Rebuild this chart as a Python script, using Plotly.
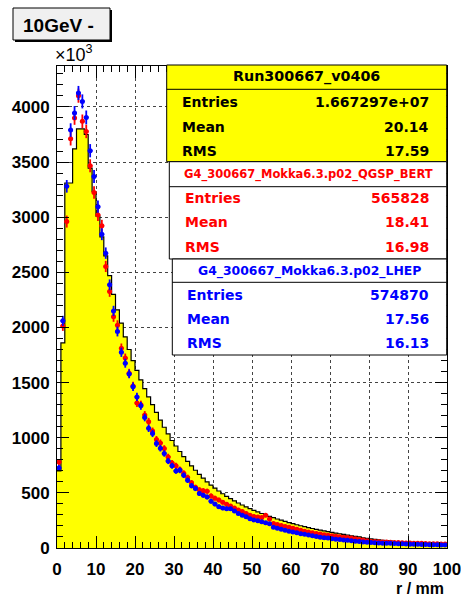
import plotly.graph_objects as go

# ---- data: radial shower profile, 1 mm bins from 0 to 100 mm (values in units of 10^3) ----
bin_edges = list(range(0, 101))
bin_centers = [i + 0.5 for i in range(100)]

run_data = [
    700, 1860, 3310, 3310, 3620, 3800, 3800, 3750, 3445, 3233,
    3010, 2822, 2650, 2470, 2300, 2160, 2040, 1915, 1800, 1700,
    1610, 1525, 1445, 1370, 1300, 1230, 1160, 1095, 1035, 975,
    925, 875, 828, 785, 745, 705, 668, 633, 600, 570,
    543, 517, 492, 468, 447, 428, 408, 390, 373, 357,
    342, 327, 313, 300, 287, 275, 263, 252, 241, 231,
    221, 211, 202, 193, 185, 177, 169, 162, 155, 148,
    141, 135, 129, 123, 117, 111, 106, 101, 92, 87,
    82, 78, 74, 70, 66, 62, 58, 55, 52, 48,
    42, 40, 38, 36, 34, 32, 30, 28, 26, 25,
]

qgsp_bert = [
    780, 2014, 2960, 3711, 3900, 4102, 3869, 3778, 3466, 3224,
    3020, 2922, 2553, 2326, 2097, 2020, 1812, 1722, 1585, 1470,
    1316, 1300, 1207, 1146, 1060, 984, 953, 902, 826, 771,
    745, 712, 678, 640, 592, 550, 528, 520, 515, 472,
    452, 435, 415, 397, 380, 362, 345, 330, 312, 298,
    286, 280, 276, 297, 262, 222, 212, 203, 196, 188,
    180, 170, 160, 152, 146, 138, 131, 126, 120, 115,
    110, 106, 102, 98, 95, 90, 84, 78, 72, 66,
    60, 58, 57, 55, 54, 52, 50, 49, 47, 46,
    45, 44, 43, 42, 40, 39, 38, 38, 37, 36,
]

lhep = [
    725, 2060, 3280, 3790, 3945, 4126, 4050, 3905, 3603, 3369,
    3095, 2845, 2674, 2387, 2150, 1963, 1775, 1676, 1579, 1462,
    1370, 1289, 1183, 1085, 1038, 947, 905, 857, 789, 745,
    699, 705, 660, 614, 565, 539, 494, 478, 463, 425,
    398, 375, 362, 357, 355, 335, 312, 298, 283, 265,
    255, 246, 238, 228, 220, 188, 180, 170, 162, 152,
    146, 138, 130, 124, 118, 110, 104, 98, 94, 90,
    85, 80, 76, 72, 70, 66, 62, 58, 55, 52,
    50, 48, 46, 44, 43, 42, 40, 39, 38, 36,
    35, 34, 33, 32, 31, 30, 30, 29, 28, 28,
]

x_ticks = [0, 10, 20, 30, 40, 50, 60, 70, 80, 90, 100]
y_ticks = [0, 500, 1000, 1500, 2000, 2500, 3000, 3500, 4000]

stats = [
    # (title, colour, fill, entries, mean, rms)
    ("Run300667_v0406", "black", "#ffff00", "1.667297e+07", "20.14", "17.59"),
    ("G4_300667_Mokka6.3.p02_QGSP_BERT", "#ff0000", "white", "565828", "18.41", "16.98"),
    ("G4_300667_Mokka6.3.p02_LHEP", "#0000ff", "white", "574870", "17.56", "16.13"),
]

# ---- page geometry (pixels) ----
W, H = 461, 596
ML, MR, MT, MB = 57, 14, 66, 48
PW, PH = W - ML - MR, H - MT - MB


def fx(px):
    return (px - ML) / PW


def fy(py):
    return (H - MB - py) / PH


fig = go.Figure()

# filled data histogram with black step outline
fig.add_trace(go.Scatter(
    x=bin_edges, y=run_data + [run_data[-1]],
    mode="lines", line=dict(shape="hv", color="black", width=1.2),
    fill="tozeroy", fillcolor="#ffff00", hoverinfo="skip", showlegend=False,
))

for values, colour in ((qgsp_bert, "#ff0000"), (lhep, "#0000ff")):
    fig.add_trace(go.Scatter(
        x=bin_centers, y=values, mode="markers",
        marker=dict(symbol="circle", size=5, color=colour),
        error_y=dict(type="sqrt", color=colour, thickness=1.8, width=0),
        error_x=dict(type="constant", value=0.6, color=colour, thickness=1.8, width=0),
        showlegend=False,
    ))

axis_common = dict(
    showline=True, linecolor="black", linewidth=1, mirror="allticks",
    ticks="inside", tickcolor="black", ticklen=12, tickwidth=1,
    showgrid=True, gridcolor="#444444", griddash="dot", gridwidth=1,
    zeroline=False, ticklabeloverflow="allow", automargin=False,
    tickfont=dict(family="Liberation Sans, Arial", size=17, color="black", weight="bold"),
)

fig.update_xaxes(range=[0, 100], tickvals=x_ticks, ticktext=[str(v) for v in x_ticks],
                 minor=dict(dtick=2, ticks="inside", ticklen=6, tickcolor="black", showgrid=False),
                 ticklabelstandoff=6, **axis_common)
fig.update_yaxes(range=[0, 4371], tickvals=y_ticks, ticktext=[str(v) for v in y_ticks],
                 minor=dict(dtick=100, ticks="inside", ticklen=6, tickcolor="black", showgrid=False),
                 ticklabelstandoff=3, **axis_common)

shapes = []
annotations = []

# title box with drop shadow
shapes.append(dict(type="rect", xref="paper", yref="paper", layer="above",
                   x0=fx(15), x1=fx(112), y0=fy(42), y1=fy(10),
                   fillcolor="black", line=dict(width=0)))
shapes.append(dict(type="rect", xref="paper", yref="paper", layer="above",
                   x0=fx(13), x1=fx(110), y0=fy(40), y1=fy(8),
                   fillcolor="#f0f0f0", line=dict(color="black", width=1)))
annotations.append(dict(text="10GeV -", xref="paper", yref="paper", x=fx(21), y=fy(25),
                        xanchor="left", yanchor="middle", showarrow=False,
                        font=dict(family="Liberation Sans, Arial", size=19, color="black", weight="bold")))

# exponent label of the y axis
annotations.append(dict(text="\u00d710<sup>3</sup>", xref="paper", yref="paper", x=fx(53), y=fy(67),
                        xanchor="left", yanchor="bottom", showarrow=False,
                        font=dict(family="Liberation Sans, Arial", size=18, color="black")))

# x axis title
annotations.append(dict(text="r / mm", xref="paper", yref="paper", x=fx(446), y=fy(588),
                        xanchor="right", yanchor="middle", showarrow=False,
                        font=dict(family="Liberation Sans, Arial", size=16, color="black", weight="bold")))

# statistics boxes: (left, top, separator, bottom, title y, row ys, label x, title size)
box_geom = [
    (166.7, 65.0, 89.3, 161.7, 76.5, (101.7, 127.0, 150.7), 180.0, 14.3),
    (169.3, 161.7, 186.7, 259.0, 174.0, (198.0, 222.5, 246.5), 182.7, 11.5),
    (172.3, 259.0, 282.3, 355.0, 270.5, (295.0, 319.0, 343.0), 185.0, 12.4),
]
right_px = 446.7
for (title, colour, fill, entries, mean, rms), geom in zip(stats, box_geom):
    left, top, sep, bottom, ty, rows, lx, tsize = geom
    shapes.append(dict(type="rect", xref="paper", yref="paper", layer="above",
                       x0=fx(left), x1=fx(right_px), y0=fy(bottom), y1=fy(top),
                       fillcolor=fill, line=dict(color="black", width=1)))
    shapes.append(dict(type="line", xref="paper", yref="paper", layer="above",
                       x0=fx(left), x1=fx(right_px), y0=fy(sep), y1=fy(sep),
                       line=dict(color="black", width=1)))
    annotations.append(dict(text=title, xref="paper", yref="paper",
                            x=fx((left + right_px) / 2), y=fy(ty),
                            xanchor="center", yanchor="middle", showarrow=False,
                            font=dict(family="DejaVu Sans", size=tsize, color=colour, weight="bold")))
    for (label, value), ry in zip((("Entries", entries), ("Mean", mean), ("RMS", rms)), rows):
        annotations.append(dict(text=label, xref="paper", yref="paper", x=fx(lx), y=fy(ry),
                                xanchor="left", yanchor="middle", showarrow=False,
                                font=dict(family="DejaVu Sans", size=14, color=colour, weight="bold")))
        annotations.append(dict(text=value, xref="paper", yref="paper", x=fx(430.5), y=fy(ry),
                                xanchor="right", yanchor="middle", showarrow=False,
                                font=dict(family="DejaVu Sans", size=14, color=colour, weight="bold")))

fig.update_layout(
    width=W, height=H,
    margin=dict(l=ML, r=MR, t=MT, b=MB, pad=0, autoexpand=False),
    paper_bgcolor="white", plot_bgcolor="white",
    shapes=shapes, annotations=annotations,
    showlegend=False,
)

fig.write_html("out.html", config={"displayModeBar": False})
